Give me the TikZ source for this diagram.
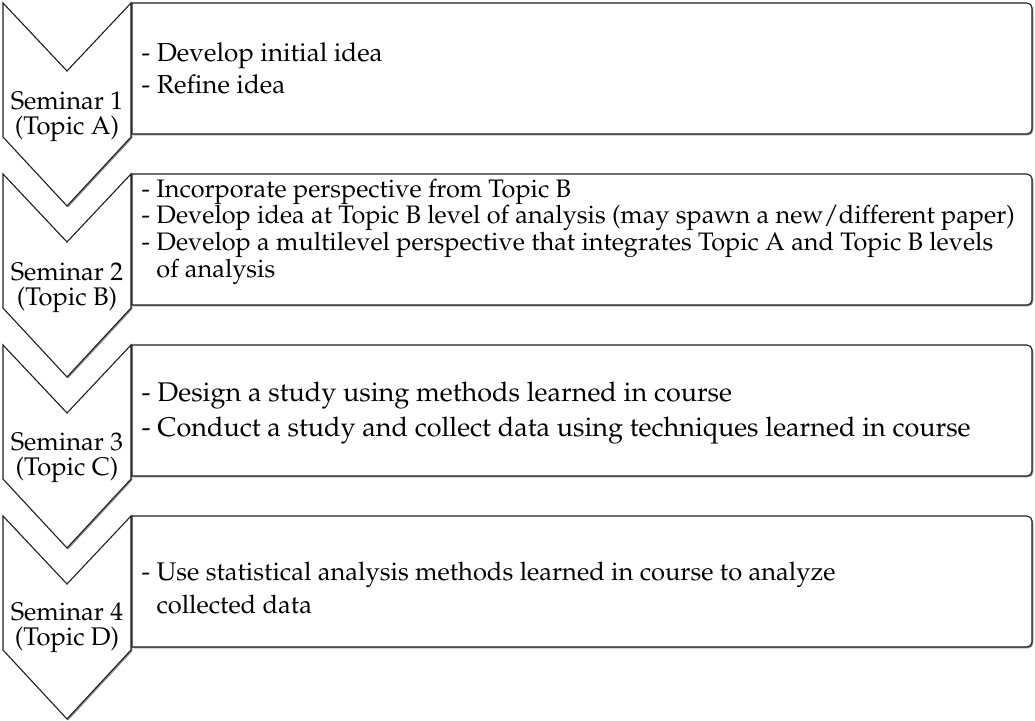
\documentclass[tikz,border=0pt]{standalone}
\usepackage[T1]{fontenc}
\renewcommand{\rmdefault}{ppl}
\usetikzlibrary{shadows}

\tikzset{
  outline/.style={draw=black!88, line width=1.1pt, line join=miter, fill=white,
    drop shadow={shadow xshift=1.3pt, shadow yshift=-1.3pt, opacity=0.45, fill=black}},
  stagelabel/.style={anchor=base, inner sep=0pt},
  paneltext/.style={anchor=base west, inner sep=0pt},
}

% chevron with its top edge at y = #1
\newcommand{\stagechevron}[1]{%
  \path[outline] (3,#1) -- (67,#1+68) -- (131,#1) -- (131,#1+134)
    -- (67,#1+203) -- (3,#1+134) -- cycle;}
% panel to the right of a chevron, top edge at y = #1
\newcommand{\stagepanel}[1]{%
  \path[outline] (132,#1) [rounded corners=5pt] -- (1032,#1) -- (1032,#1+131)
    [sharp corners] -- (132,#1+131) -- cycle;}

\newcommand{\stagefont}{\fontsize{25.5}{25.5}\selectfont}

\begin{document}
\begin{tikzpicture}[x=1pt,y=-1pt]
\useasboundingbox (0,0) rectangle (1035,720);

% chevrons, drawn bottom-up so each one overlaps the next
\stagechevron{516}
\stagechevron{345}
\stagechevron{174}
\stagechevron{3}

% panels
\stagepanel{3}
\stagepanel{174}
\stagepanel{345}
\stagepanel{516}

% stage labels
\node[stagelabel] (s1) at (67,109) {\parbox[t]{125pt}{\centering\stagefont Seminar 1\\(Topic A)}};
\node[stagelabel] (s2) at (67,280) {\parbox[t]{125pt}{\centering\stagefont Seminar 2\\(Topic B)}};
\node[stagelabel] (s3) at (67,450) {\parbox[t]{125pt}{\centering\stagefont Seminar 3\\(Topic C)}};
\node[stagelabel] (s4) at (67,620) {\parbox[t]{125pt}{\centering\stagefont Seminar 4\\(Topic D)}};

% panel texts
\node[paneltext] (p1) at (141.5,61.7) {\parbox[t]{885pt}{\raggedright\fontsize{26}{31.6}\selectfont
  - Develop initial idea\\
  - Refine idea}};
\node[paneltext] (p2) at (141.5,197) {\parbox[t]{885pt}{\raggedright\fontsize{25.3}{26.7}\selectfont
  - Incorporate perspective from Topic B\\
  - Develop idea at Topic B level of analysis (may spawn a new/different paper)\\
  - Develop a multilevel perspective that integrates Topic A and Topic B levels\\
  \phantom{- }of analysis}};
\node[paneltext] (p3) at (141.5,401) {\parbox[t]{885pt}{\raggedright\fontsize{27}{35}\selectfont
  - Design a study using methods learned in course\\
  - Conduct a study and collect data using techniques learned in course}};
\node[paneltext] (p4) at (141.5,580) {\parbox[t]{885pt}{\raggedright\fontsize{25.5}{33}\selectfont
  - Use statistical analysis methods learned in course to analyze\\
  \phantom{- }collected data}};
\end{tikzpicture}
\end{document}
